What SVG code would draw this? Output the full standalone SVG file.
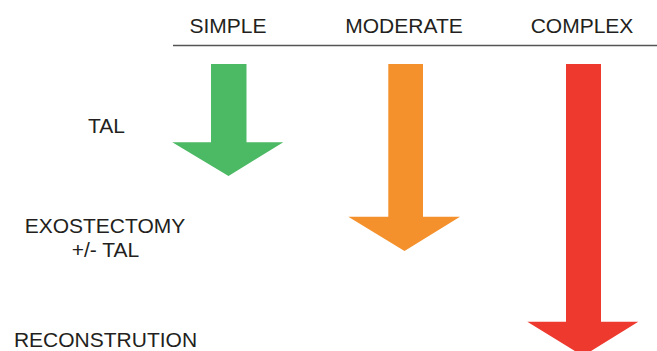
<svg xmlns="http://www.w3.org/2000/svg" width="657" height="351" viewBox="0 0 657 351">
<style>
text{font-family:"Liberation Sans",Arial,sans-serif;font-size:21px;fill:#231f20;text-anchor:middle}
.rule{stroke:#555;stroke-width:1.3;fill:none}
</style>
<rect width="657" height="351" fill="#fff"/>
<g id="headers">
<text x="228" y="33">SIMPLE</text>
<text x="404" y="33">MODERATE</text>
<text x="582" y="33">COMPLEX</text>
</g>
<g id="connectors">
<line class="rule" x1="173" y1="45.5" x2="657" y2="45.5"/>
</g>
<g id="simple">
<polygon fill="#4cb964" points="211,64 246.5,64 246.5,142.3 283.3,142.3 228.5,176 172.3,142.3 211,142.3"/>
</g>
<g id="moderate">
<polygon fill="#f4912d" points="388.3,64 423,64 423,216.7 460,216.7 404.5,251 348.3,216.7 388.3,216.7"/>
</g>
<g id="complex">
<polygon fill="#ee3a2e" points="566,64 601,64 601,321.7 638.3,321.7 583,356 527.3,321.7 566,321.7"/>
</g>
<g id="labels">
<text x="106.5" y="133.3">TAL</text>
<text x="105" y="232.7">EXOSTECTOMY</text>
<text x="105.5" y="257.3">+/- TAL</text>
<text x="105.5" y="346.5">RECONSTRUTION</text>
</g>
</svg>
